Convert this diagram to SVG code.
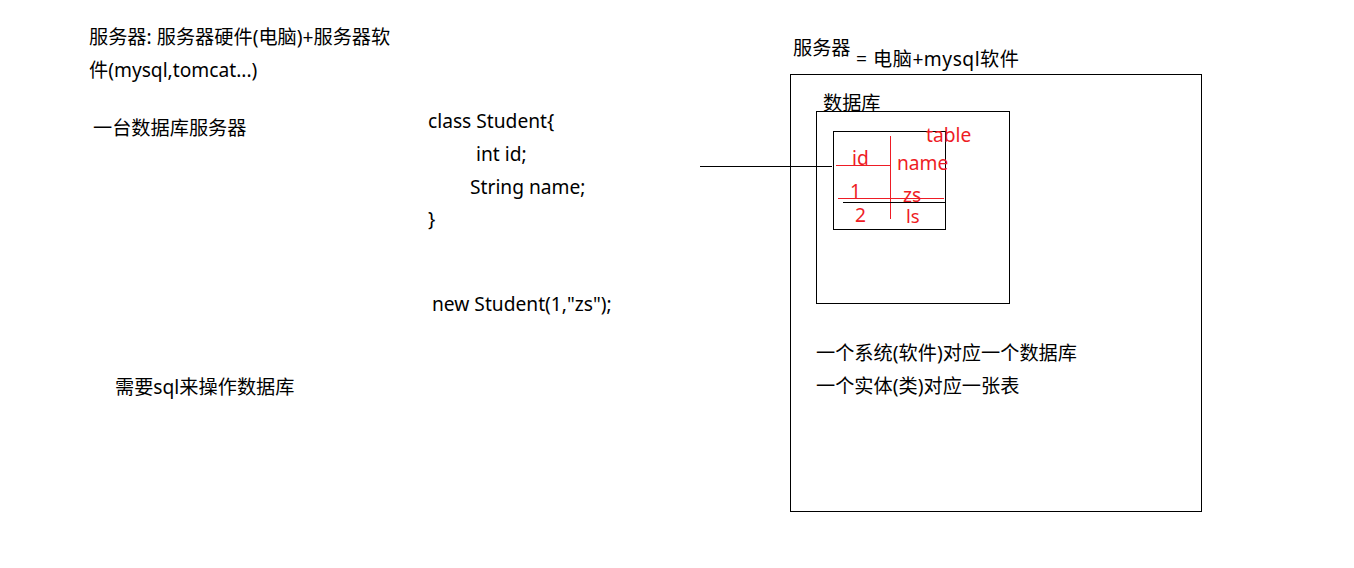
<svg xmlns="http://www.w3.org/2000/svg" width="1354" height="568" viewBox="0 0 1354 568">
<style>
text{font-family:"Noto Sans","Noto Sans CJK SC",sans-serif;font-size:19.2px;fill:#000}
.r{fill:#ee1c25}
.box{fill:none;stroke:#000;stroke-width:1}
.rl{stroke:#ee1c25;stroke-width:1}
</style>
<rect width="1354" height="568" fill="#fff"/>
<g id="notes">
<text x="89" y="44">服务器: 服务器硬件(电脑)+服务器软</text>
<text x="89" y="77">件(mysql,tomcat...)</text>
<text x="93" y="135">一台数据库服务器</text>
<text x="115" y="394">需要sql来操作数据库</text>
</g>
<g id="code">
<text x="428" y="128">class Student{</text>
<text x="476" y="161">int id;</text>
<text x="470" y="194">String name;</text>
<text x="428" y="226">}</text>
<text x="432" y="311">new Student(1,"zs");</text>
</g>
<g id="server">
<text x="793" y="55">服务器</text>
<text x="856" y="66" textLength="163" lengthAdjust="spacing">= 电脑+mysql软件</text>
<rect class="box" x="790.5" y="74.5" width="411" height="437"/>
<text x="816" y="360">一个系统(软件)对应一个数据库</text>
<text x="816" y="393">一个实体(类)对应一张表</text>
</g>
<g id="database">
<text x="823" y="110">数据库</text>
<rect class="box" x="816.5" y="111.5" width="193" height="192"/>
</g>
<g id="table">
<rect class="box" x="833.5" y="131.5" width="112" height="98"/>
<line class="rl" x1="890.5" y1="136" x2="890.5" y2="219"/>
<line class="rl" x1="836" y1="165.5" x2="890" y2="165.5"/>
<line class="rl" x1="838" y1="198.5" x2="944" y2="198.5"/>
<line stroke="#000" x1="843" y1="202.5" x2="945" y2="202.5"/>
<text class="r" x="926" y="142">table</text>
<text class="r" x="852" y="165">id</text>
<text class="r" x="897" y="170">name</text>
<text class="r" x="850" y="198">1</text>
<text class="r" x="903" y="202">zs</text>
<text class="r" x="855" y="222">2</text>
<text class="r" x="906" y="223" style="font-size:18.5px">ls</text>
</g>
<g id="connectors">
<line stroke="#000" x1="700" y1="166.5" x2="832" y2="166.5"/>
</g>
</svg>
